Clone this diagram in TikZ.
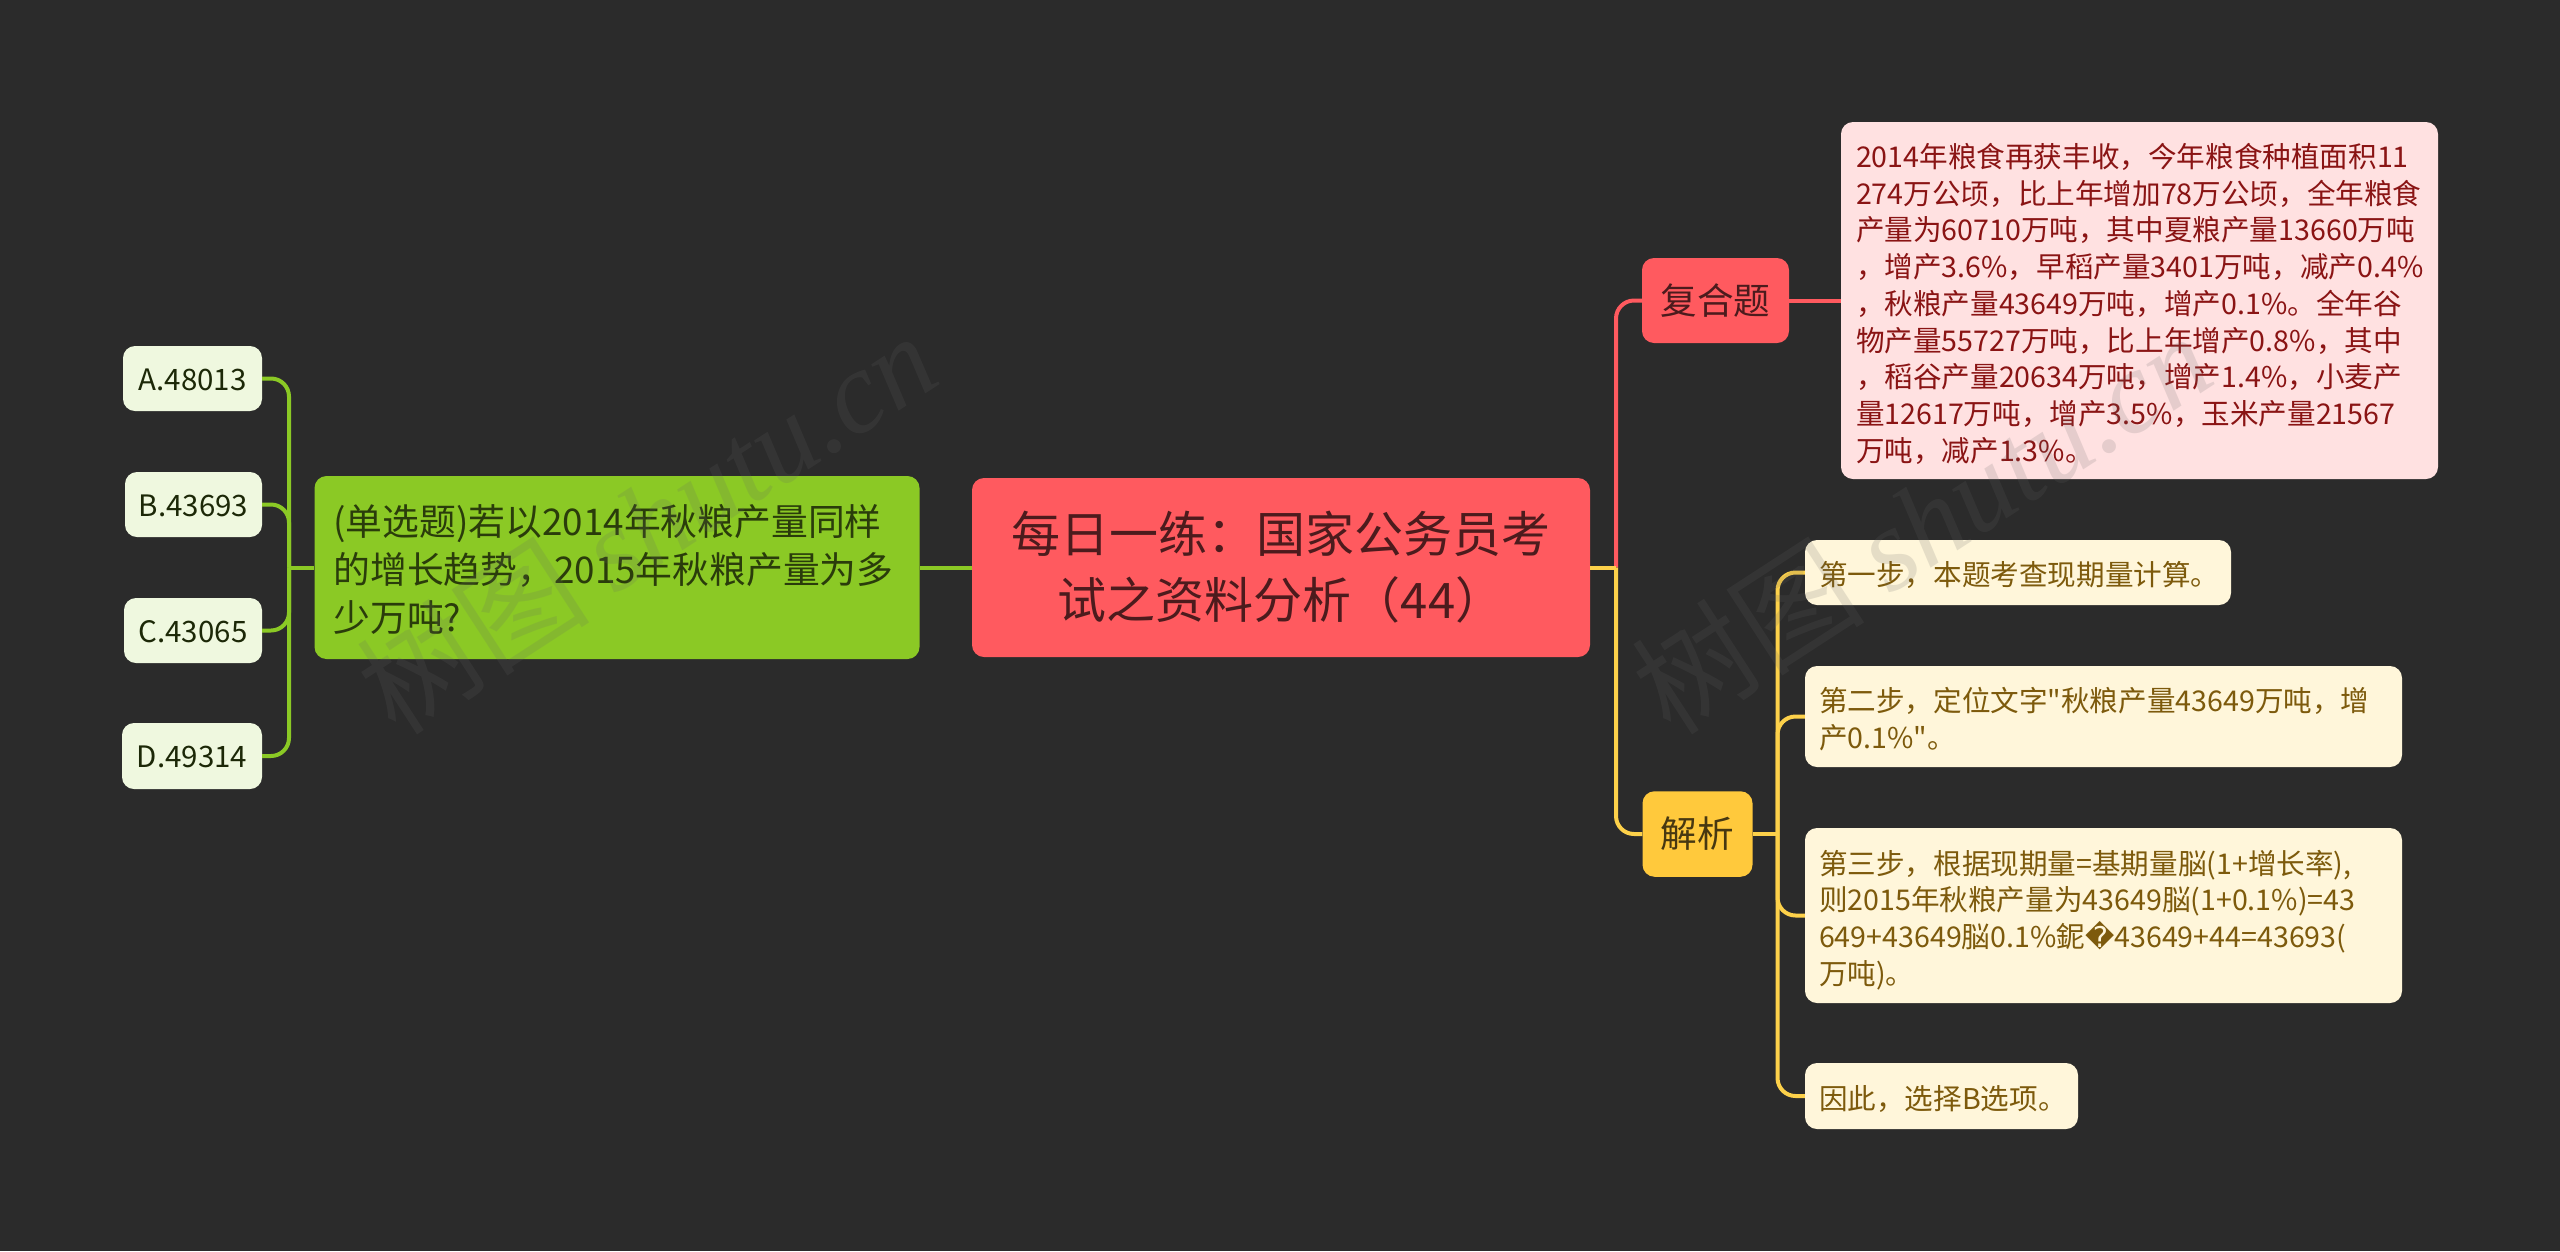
\documentclass[tikz,border=0pt]{standalone}
\usepackage{fontspec}
\setmainfont{Noto Sans CJK SC}
\newfontfamily\wmlatin{Liberation Serif}
\newfontfamily\djvu{DejaVu Sans}
\newfontfamily\plainq{Noto Sans CJK SC}
\newcommand{\upto}[1]{\rule{0pt}{#1}}
\definecolor{bgc}{HTML}{2B2B2B}
\definecolor{redc}{HTML}{FF5A5F}
\definecolor{yelc}{HTML}{FFC93C}
\definecolor{yelw}{HTML}{FDD14A}
\definecolor{grnc}{HTML}{8BC925}
\definecolor{detf}{HTML}{FFE1E1}
\definecolor{dett}{HTML}{8A1414}
\definecolor{stpf}{HTML}{FFF6DA}
\definecolor{stpt}{HTML}{7D5A0C}
\definecolor{optf}{HTML}{EFF8DF}
\tikzset{
  x=1pt,y=-1pt,
  nbox/.style={rounded corners=12pt,inner sep=0pt,align=left},
  rootn/.style={nbox,fill=redc,text=black!70!redc,align=center,font=\fontsize{49}{66}\selectfont},
  qn/.style={nbox,fill=grnc,text=black!70!grnc,font=\fontsize{36.8}{48}\selectfont},
  optn/.style={nbox,fill=optf,text=black!80!grnc,align=center,font=\fontsize{29.5}{36}\selectfont},
  fuhen/.style={nbox,fill=redc,text=black!70!redc,align=center,font=\fontsize{36.6}{46}\selectfont},
  jien/.style={nbox,fill=yelc,text=black!72!yelc,align=center,font=\fontsize{36.6}{46}\selectfont},
  detn/.style={nbox,fill=detf,text=dett,font=\fontsize{28.6}{36.75}\selectfont},
  stpn/.style={nbox,fill=stpf,text=stpt,font=\fontsize{28.6}{36.8}\selectfont},
  redl/.style={draw=redc,line width=4pt,rounded corners=18pt},
  yell/.style={draw=yelw,line width=4pt,rounded corners=18pt},
  grnl/.style={draw=grnc,line width=4pt,rounded corners=18pt},
  wmark/.style={text=black!60!white,opacity=.17,rotate=33,anchor=west,inner sep=0pt,font=\fontsize{117}{125}\selectfont}
}
\begin{document}
\begin{tikzpicture}
\path[use as bounding box,fill=bgc] (0,0) rectangle (2560,1251);
\node[rootn,minimum width=618pt,minimum height=179pt,text width=590pt] (root) at (1281,567.5) {每日一练：国家公务员考\\试之资料分析（44）};
\node[qn,minimum width=605pt,minimum height=183pt,text width=567pt] (q) at (617,567.5) {\upto{34.5pt}(单选题)若以2014年秋粮产量同样\\的增长趋势，2015年秋粮产量为多\\少万吨?};
\node[optn,minimum width=139pt,minimum height=65pt] (a) at (192.5,378.5) {\upto{24pt}A.48013};
\node[optn,minimum width=137pt,minimum height=65pt] (b) at (193.5,504.5) {\upto{24pt}B.43693};
\node[optn,minimum width=138pt,minimum height=65pt] (c) at (193,630.5) {\upto{24pt}C.43065};
\node[optn,minimum width=140pt,minimum height=66pt] (d) at (192,756) {\upto{24pt}D.49314};
\node[fuhen,minimum width=147pt,minimum height=85pt] (fuhe) at (1715.5,300.5) {复合题};
\node[jien,minimum width=110pt,minimum height=85.5pt] (jie) at (1697.5,834) {解析};
\node[detn,minimum width=597pt,minimum height=357pt,text width=567pt] (det) at (2139.5,300.5) {\upto{31pt}2014年粮食再获丰收，今年粮食种植面积11\\274万公顷，比上年增加78万公顷，全年粮食\\产量为60710万吨，其中夏粮产量13660万吨\\，增产3.6\%，早稻产量3401万吨，减产0.4\%\\，秋粮产量43649万吨，增产0.1\%。全年谷\\物产量55727万吨，比上年增产0.8\%，其中\\，稻谷产量20634万吨，增产1.4\%，小麦产\\量12617万吨，增产3.5\%，玉米产量21567\\万吨，减产1.3\%。};
\node[stpn,minimum width=426pt,minimum height=65pt,text width=398pt] (s1) at (2018,572.5) {\upto{30pt}第一步，本题考查现期量计算。};
\node[stpn,minimum width=597pt,minimum height=101pt,text width=569pt] (s2) at (2103.5,716.5) {\upto{30pt}第二步，定位文字{\plainq"}秋粮产量43649万吨，增\\产0.1\%{\plainq"}。};
\node[stpn,minimum width=597pt,minimum height=175pt,text width=569pt] (s3) at (2103.5,915.5) {\upto{33pt}第三步，根据现期量=基期量脳(1+增长率),\\则2015年秋粮产量为43649脳(1+0.1\%)=43\\649+43649脳0.1\%鈮{\djvu\symbol{"FFFD}}43649+44=43693(\\万吨)。};
\node[stpn,minimum width=273pt,minimum height=66pt,text width=245pt] (s4) at (1941.5,1096) {\upto{30pt}因此，选择B选项。};
\coordinate (gb) at (289,567.5);
\coordinate (rb) at (1616,567.5);
\coordinate (yb) at (1777.5,834);
\draw[grnl] (root.west) -- (q.east);
\draw[grnl] (q.west) -- (gb);
\draw[grnl] (gb) |- (a.east);
\draw[grnl] (gb) |- (b.east);
\draw[grnl] (gb) |- (c.east);
\draw[grnl] (gb) |- (d.east);
\draw[redl] (rb) |- (fuhe.west);
\draw[redl] (fuhe.east) -- (det.west);
\draw[yell] (root.east) -- (rb);
\draw[yell] (rb) |- (jie.west);
\draw[yell] (jie.east) -- (yb);
\draw[yell] (yb) |- (s1.west);
\draw[yell] (yb) |- (s2.west);
\draw[yell] (yb) |- (s3.west);
\draw[yell] (yb) |- (s4.west);
\node[wmark] (wm1) at (372,700) {树图 {\wmlatin\itshape shutu.cn}};
\node[wmark] (wm2) at (1647,700) {树图 {\wmlatin\itshape shutu.cn}};
\end{tikzpicture}
\end{document}
